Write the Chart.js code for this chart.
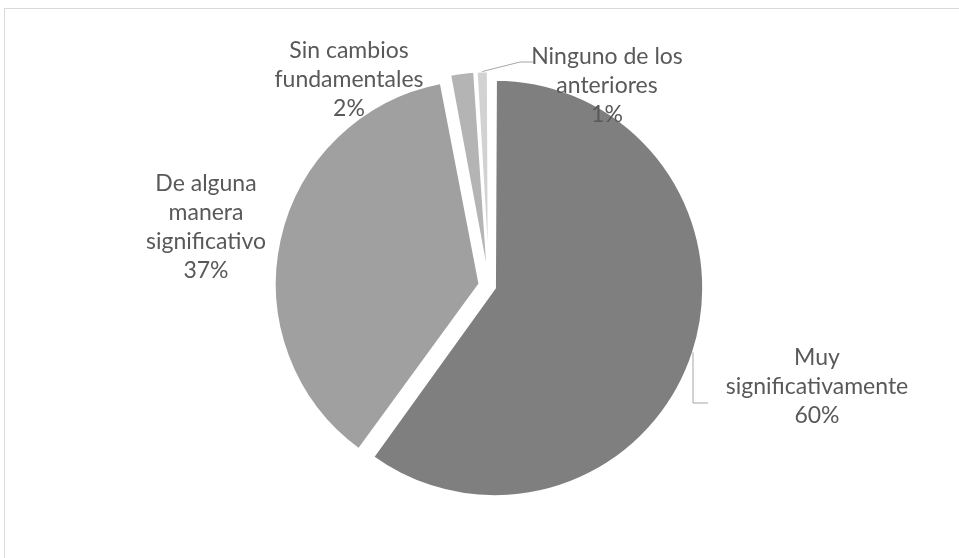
<!DOCTYPE html>
<html>
<head>
<meta charset="utf-8">
<script src="https://cdn.jsdelivr.net/npm/chart.js@4.4.1/dist/chart.umd.min.js"></script>
<style>
  html, body { margin: 0; padding: 0; background: #fff; overflow: hidden; }
  #frame { position: absolute; left: 4px; top: 8px; width: 1000px; height: 600px; border: 1px solid #d9d9d9; }
  #wrap { position: absolute; left: 0; top: 0; width: 959px; height: 558px; }
</style>
</head>
<body>
<div id="frame"></div>
<div id="wrap"><canvas id="pieChart"></canvas></div>
<script>
// Survey answers, clockwise from 12 o'clock
const categories = ['Muy significativamente', 'De alguna manera significativo', 'Sin cambios fundamentales', 'Ninguno de los anteriores'];
const values = [60, 37, 2, 1];
// How each category name is broken over lines in its label
const labelLines = [
    ['Muy', 'significativamente'],
    ['De alguna', 'manera', 'significativo'],
    ['Sin cambios', 'fundamentales'],
    ['Ninguno de los', 'anteriores']
];

// Styling
const sliceColors = ['#7f7f7f', '#a0a0a0', '#b4b4b4', '#d2d2d2'];
// Chart.js shrinks the offset for wide arcs, so these give roughly the same pull-out
const sliceOffsets = [25, 39, 27, 26];
const labelFont = '23px Lato';
const lineHeight = 29;
const textColor = '#595959';
const leaderColor = '#a6a6a6';

// Label block centres relative to the pie centre, plus optional leader elbows
// (leader points are relative to the label centre)
const labelSpots = [
    { dx: 328, dy: 100.5, leader: [[-124, 16.5], [-109, 16.5]] },
    { dx: -283, dy: -58.5 },
    { dx: -140, dy: -206 },
    { dx: 118, dy: -200, leader: [[-87, -24], [-74, -24]] }
];

// Outer edge midpoint of an arc, including the translation Chart.js applies for offset
const arcTip = (arc) => {
    const half = (arc.startAngle + arc.endAngle) / 2;
    const off = (arc.options.offset || 0) / 4;
    const fix = 1 - Math.sin(Math.min(Math.PI, arc.circumference || 0));
    const shift = off + off * fix;
    const r = arc.outerRadius + shift;
    return { x: arc.x + Math.cos(half) * r, y: arc.y + Math.sin(half) * r };
};

const sliceLabels = {
    id: 'sliceLabels',
    afterDatasetsDraw(chart) {
        const ctx = chart.ctx;
        const meta = chart.getDatasetMeta(0);
        const total = values.reduce((a, b) => a + b, 0);
        ctx.save();
        ctx.font = labelFont;
        ctx.fillStyle = textColor;
        ctx.textAlign = 'center';
        ctx.textBaseline = 'middle';
        meta.data.forEach((arc, i) => {
            const spot = labelSpots[i];
            const cx = arc.x + spot.dx;
            const cy = arc.y + spot.dy;
            const lines = labelLines[i].concat(Math.round(values[i] / total * 100) + '%');
            const top = cy - (lines.length - 1) * lineHeight / 2;
            lines.forEach((t, k) => ctx.fillText(t, cx, top + k * lineHeight));

            if (spot.leader) {
                const tip = arcTip(arc);
                ctx.beginPath();
                ctx.strokeStyle = leaderColor;
                ctx.lineWidth = 1;
                ctx.moveTo(tip.x, tip.y);
                spot.leader.forEach(([px, py]) => ctx.lineTo(cx + px, cy + py));
                ctx.stroke();
            }
        });
        ctx.restore();
    }
};

const pieCtx = document.getElementById('pieChart').getContext('2d');
const pieChart = new Chart(pieCtx, {
    type: 'pie',
    data: {
        labels: categories,
        datasets: [{
            data: values,
            backgroundColor: sliceColors,
            borderColor: '#ffffff',
            borderWidth: 2,
            offset: sliceOffsets,
            hoverOffset: 0
        }]
    },
    options: {
        responsive: true,
        maintainAspectRatio: false,
        animation: false,
        radius: 202,
        layout: {
            padding: { left: 29, right: 10, top: 24, bottom: 10 }
        },
        plugins: {
            legend: { display: false },
            tooltip: { enabled: false }
        }
    },
    plugins: [sliceLabels]
});
</script>
</body>
</html>
